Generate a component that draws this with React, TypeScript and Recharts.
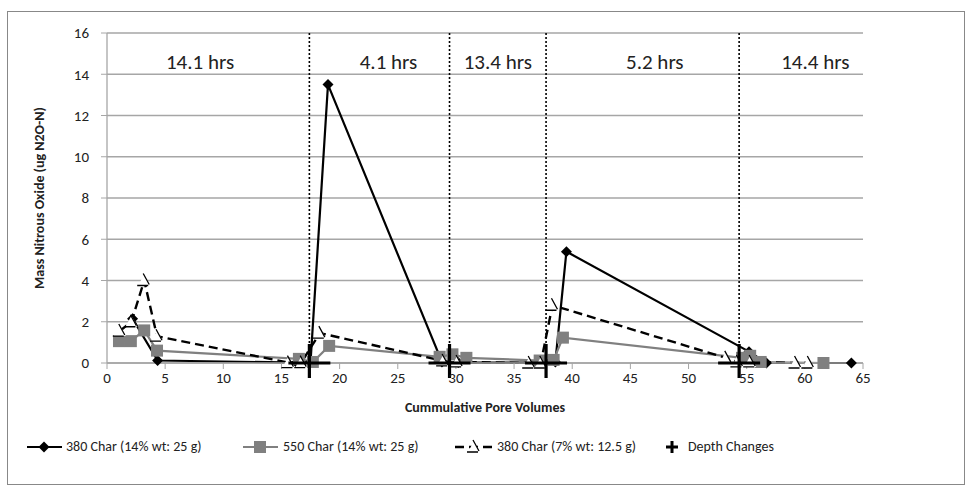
import React from "react";
import {
  ComposedChart,
  Line,
  XAxis,
  YAxis,
  CartesianGrid,
  ReferenceLine,
  ReferenceDot,
} from "recharts";

const xTicks = [0, 5, 10, 15, 20, 25, 30, 35, 40, 45, 50, 55, 60, 65];
const yTicks = [0, 2, 4, 6, 8, 10, 12, 14, 16];

// 380 Char (14% wt: 25 g)
const char380X = [2.2, 4.35, 16.3, 17.5, 19.0, 28.8, 30.2, 37.3, 38.55, 39.5, 55.2, 56.7, 64.0];
const char380Y = [2.15, 0.12, 0.02, 0.05, 13.5, 0.05, 0.02, 0.02, 0.05, 5.4, 0.55, 0.0, 0.0];

// 550 Char (14% wt: 25 g)
const char550X = [1.03, 2.05, 3.2, 4.3, 16.5, 17.7, 19.1, 28.6, 29.7, 30.9, 37.2, 38.4, 39.2, 54.6, 55.3, 56.2, 61.6];
const char550Y = [1.06, 1.06, 1.58, 0.6, 0.2, 0.05, 0.83, 0.3, 0.42, 0.25, 0.12, 0.15, 1.23, 0.25, 0.35, 0.05, 0.0];

// 380 Char (7% wt: 12.5 g)
const char380lowX = [1.1, 2.1, 3.2, 4.3, 15.6, 16.7, 18.3, 28.9, 30.1, 36.3, 37.3, 38.3, 53.2, 54.2, 55.3, 59.2, 60.3];
const char380lowY = [1.55, 2.0, 4.0, 1.3, 0.02, 0.02, 1.45, 0.1, 0.05, 0.0, 0.0, 2.8, 0.25, 0.05, 0.05, 0.0, 0.0];

// depth changes
const depthX = [17.4, 29.45, 37.75, 54.35];

// interval labels
const hourLabels = ["14.1 hrs", "4.1 hrs", "13.4 hrs", "5.2 hrs", "14.4 hrs"];
const hourX = [8.0, 24.2, 33.6, 47.1, 60.9];
const hourY = 14.6;

const zip = (xs: number[], ys: number[]) => xs.map((x, i) => ({ x, y: ys[i] }));

const font = "Carlito, Calibri, Lato, sans-serif";

const Diamond = (p: any) => {
  const { cx, cy, index } = p;
  if (cx == null || cy == null) return <g key={index} />;
  return (
    <path
      key={index}
      d={`M${cx},${cy - 5.5}L${cx + 5.5},${cy}L${cx},${cy + 5.5}L${cx - 5.5},${cy}Z`}
      fill="#000"
    />
  );
};

const Square = (p: any) => {
  const { cx, cy, index } = p;
  if (cx == null || cy == null) return <g key={index} />;
  return <rect key={index} x={cx - 6} y={cy - 6} width={12} height={12} fill="#808080" />;
};

const Tri = (p: any) => {
  const { cx, cy, index } = p;
  if (cx == null || cy == null) return <g key={index} />;
  return (
    <g key={index}>
      <path d={`M${cx - 6},${cy + 5}L${cx},${cy - 6}L${cx + 6},${cy + 5}Z`} fill="#fff" />
      <path
        d={`M${cx - 1},${cy - 7}L${cx + 5},${cy + 4}M${cx - 7},${cy + 5}L${cx + 4},${cy + 5}`}
        stroke="#000"
        strokeWidth={1.3}
        fill="none"
      />
    </g>
  );
};

const Plus = (p: any) => {
  const { cx, cy, index } = p;
  if (cx == null || cy == null) return <g key={index} />;
  return (
    <path
      key={index}
      d={`M${cx - 21},${cy}L${cx + 21},${cy}M${cx},${cy - 19}L${cx},${cy + 15}`}
      stroke="#000"
      strokeWidth={3.2}
    />
  );
};

const legendText = { position: "absolute" as const, top: 0, fontSize: 14, color: "#222", whiteSpace: "nowrap" as const, lineHeight: "20px" };

export default function App() {
  return (
    <div style={{ position: "absolute", left: 0, top: 0, width: 968, height: 492, background: "#fff", fontFamily: font }}>
      <div
        style={{
          position: "absolute",
          left: 7,
          top: 11,
          width: 958,
          height: 474,
          border: "1px solid #888",
          boxSizing: "border-box",
        }}
      />
      <div style={{ position: "absolute", left: 0, top: 0 }}>
        <ComposedChart width={968} height={492} margin={{ top: 33, right: 105, left: 0, bottom: 0 }}>
          <CartesianGrid horizontal vertical={false} stroke="#a6a6a6" strokeWidth={1.3} />
          <XAxis
            type="number"
            dataKey="x"
            domain={[0, 65]}
            ticks={xTicks}
            interval={0}
            height={129}
            axisLine={{ stroke: "#a6a6a6", strokeWidth: 1.3 }}
            tickLine={{ stroke: "#a6a6a6" }}
            tickSize={6}
            tickMargin={3}
            tick={{ fill: "#222", fontSize: 15, fontFamily: font }}
            label={{
              value: "Cummulative Pore Volumes",
              position: "insideTop",
              offset: 39,
              style: { fontWeight: "bold", fontSize: 14, fill: "#222", fontFamily: font },
            }}
          />
          <YAxis
            type="number"
            dataKey="y"
            domain={[0, 16]}
            ticks={yTicks}
            interval={0}
            width={107}
            axisLine={{ stroke: "#a6a6a6", strokeWidth: 1.3 }}
            tickLine={{ stroke: "#a6a6a6" }}
            tickSize={6}
            tickMargin={12}
            tick={{ fill: "#222", fontSize: 15, fontFamily: font }}
            label={{
              value: "Mass Nitrous Oxide (ug N2O-N)",
              angle: -90,
              position: "center",
              dx: -14,
              style: { fontWeight: "bold", fontSize: 14, fill: "#222", fontFamily: font },
            }}
          />
          {depthX.map((x) => (
            <ReferenceLine
              key={"d" + x}
              segment={[
                { x, y: 0 },
                { x, y: 16 },
              ]}
              stroke="#000"
              strokeWidth={1.6}
              strokeDasharray="2 2"
            />
          ))}
          {hourLabels.map((t, i) => (
            <ReferenceDot
              key={t + i}
              x={hourX[i]}
              y={hourY}
              r={1}
              shape={(p: any) => (
                <text
                  x={p.cx}
                  y={p.cy}
                  textAnchor="middle"
                  dominantBaseline="central"
                  fontSize={21}
                  fill="#222"
                  fontFamily={font}
                >
                  {t}
                </text>
              )}
            />
          ))}
          <Line
            data={zip(char380X, char380Y)}
            dataKey="y"
            stroke="#000"
            strokeWidth={2.2}
            dot={Diamond}
            activeDot={false}
            isAnimationActive={false}
          />
          <Line
            data={zip(char550X, char550Y)}
            dataKey="y"
            stroke="#808080"
            strokeWidth={2.2}
            dot={Square}
            activeDot={false}
            isAnimationActive={false}
          />
          <Line
            data={zip(char380lowX, char380lowY)}
            dataKey="y"
            stroke="#000"
            strokeWidth={2.4}
            strokeDasharray="9 5"
            dot={Tri}
            activeDot={false}
            isAnimationActive={false}
          />
          <Line
            data={depthX.map((x) => ({ x, y: 0 }))}
            dataKey="y"
            stroke="none"
            dot={Plus}
            activeDot={false}
            isAnimationActive={false}
          />
        </ComposedChart>
      </div>
      <div style={{ position: "absolute", left: 0, top: 437, width: 968, height: 20 }}>
        <svg width={968} height={20} style={{ position: "absolute", left: 0, top: 0 }}>
          <line x1={27} y1={10} x2={62} y2={10} stroke="#000" strokeWidth={2.2} />
          <path d="M44,4.5L49.5,10L44,15.5L38.5,10Z" fill="#000" />
          <line x1={243} y1={10} x2={278} y2={10} stroke="#808080" strokeWidth={2.2} />
          <rect x={254} y={4} width={12} height={12} fill="#808080" />
          <line x1={455} y1={10} x2={492} y2={10} stroke="#000" strokeWidth={2.4} strokeDasharray="9 5" />
          <path d="M468,15L474,4L480,15Z" fill="#fff" />
          <path d="M473,3L479,14M467,15L478,15" stroke="#000" strokeWidth={1.3} fill="none" />
          <path d="M666,10L678,10M672,4L672,16" stroke="#000" strokeWidth={3} />
        </svg>
        <span style={{ ...legendText, left: 66 }}>380 Char (14% wt: 25 g)</span>
        <span style={{ ...legendText, left: 283 }}>550 Char (14% wt: 25 g)</span>
        <span style={{ ...legendText, left: 497 }}>380 Char (7% wt: 12.5 g)</span>
        <span style={{ ...legendText, left: 688 }}>Depth Changes</span>
      </div>
    </div>
  );
}
